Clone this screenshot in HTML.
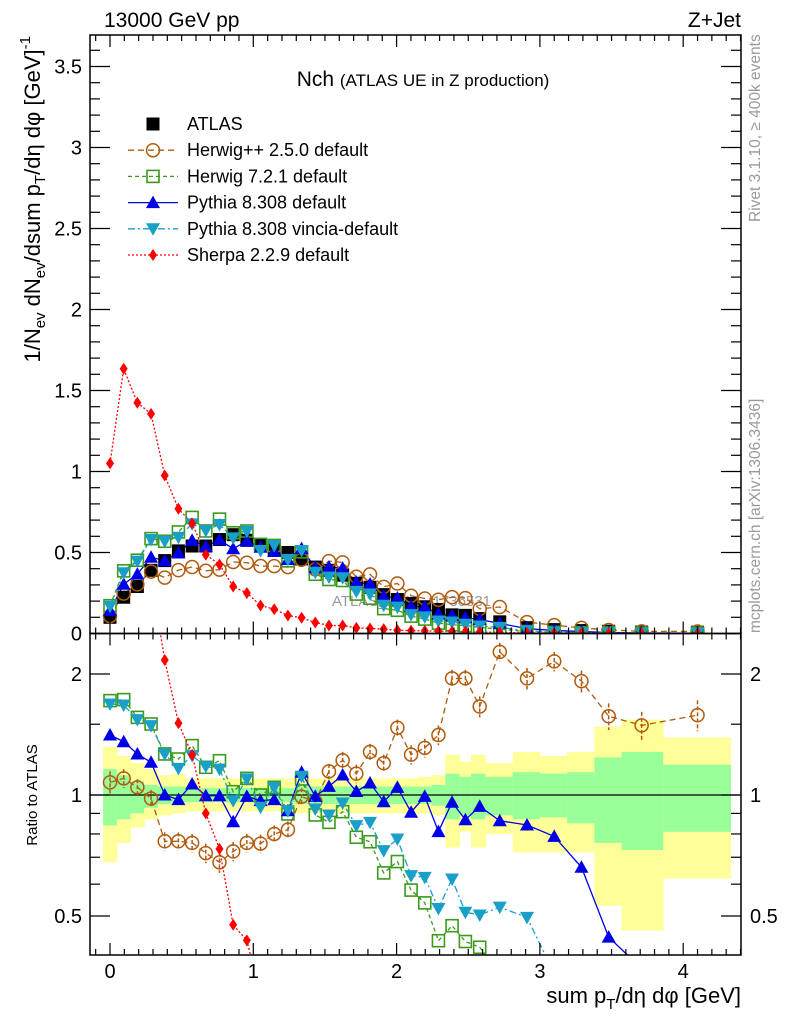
<!DOCTYPE html>
<html><head><meta charset="utf-8"><style>
html,body{margin:0;padding:0;background:#fff;width:786px;height:1024px;overflow:hidden;}
svg{display:block;font-family:"Liberation Sans",sans-serif;}
</style></head><body>
<svg id="chart" width="786" height="1024" viewBox="0 0 786 1024" xmlns="http://www.w3.org/2000/svg">
<defs>
<clipPath id="cm"><rect x="90" y="35" width="651" height="598.5"/></clipPath>
<clipPath id="cr"><rect x="90" y="633.5" width="651" height="321.5"/></clipPath>
</defs>
<g id="bands" clip-path="url(#cr)"></g>
<g id="refline"></g>
<g id="ratio" clip-path="url(#cr)"></g>
<text x="332" y="606" font-size="15" fill="#999">ATLAS_2019_I1736531</text>
<g id="main" clip-path="url(#cm)"></g>
<g id="axes"></g>
<text x="104" y="27" font-size="21">13000 GeV pp</text>
<text x="741" y="27" font-size="21" text-anchor="end">Z+Jet</text>
<text x="423" y="86" font-size="21" text-anchor="middle">Nch <tspan font-size="17">(ATLAS UE in Z production)</tspan></text>
<text transform="translate(760,222) rotate(-90)" font-size="15.5" fill="#999">Rivet 3.1.10, ≥ 400k events</text>
<text transform="translate(760,633) rotate(-90)" font-size="15.5" fill="#999">mcplots.cern.ch [arXiv:1306.3436]</text>
<text transform="translate(40,36) rotate(-90)" font-size="22" text-anchor="end">1/N<tspan font-size="15" dy="5">ev</tspan><tspan dy="-5"> dN</tspan><tspan font-size="15" dy="5">ev</tspan><tspan dy="-5">/dsum p</tspan><tspan font-size="15" dy="5">T</tspan><tspan dy="-5">/dη dφ  [GeV]</tspan><tspan font-size="15" dy="-10">-1</tspan></text>
<text transform="translate(37,795) rotate(-90)" font-size="15" text-anchor="middle">Ratio to ATLAS</text>
<text x="741" y="1003" font-size="22" text-anchor="end">sum p<tspan font-size="15" dy="6">T</tspan><tspan dy="-6">/dη dφ [GeV]</tspan></text>
<g id="legend"></g>
</svg>
<script>
const xVals=[0,0.0955,0.191,0.2865,0.382,0.4775,0.573,0.6685,0.764,0.8595,0.955,1.0505,1.146,1.2415,1.337,1.4325,1.528,1.6235,1.719,1.8145,1.91,2.0055,2.101,2.1965,2.292,2.387,2.48,2.58,2.72,2.91,3.1,3.29,3.48,3.71,4.1];
const binEdges=[-0.048,0.0475,0.143,0.2385,0.334,0.4295,0.525,0.6205,0.716,0.8115,0.907,1.0025,1.098,1.1935,1.289,1.3845,1.48,1.5755,1.671,1.7665,1.862,1.9575,2.053,2.1485,2.244,2.34,2.44,2.52,2.62,2.81,3.0,3.19,3.38,3.57,3.86,4.33];
const atlas=[0.10,0.224,0.29,0.39,0.45,0.51,0.54,0.54,0.58,0.61,0.575,0.55,0.52,0.50,0.46,0.41,0.39,0.36,0.31,0.285,0.24,0.21,0.185,0.165,0.148,0.115,0.112,0.092,0.072,0.036,0.024,0.018,0.014,0.009,0.008];
const herwigppRatio=[1.075,1.10,1.045,0.98,0.767,0.767,0.76,0.717,0.68,0.724,0.76,0.757,0.80,0.82,0.99,0.965,1.145,1.22,1.13,1.28,1.20,1.47,1.26,1.31,1.41,1.95,1.95,1.66,2.27,1.95,2.15,1.92,1.57,1.49,1.58];
const herwig7Ratio=[1.717,1.727,1.56,1.502,1.265,1.229,1.327,1.172,1.217,1.019,1.1,1.0,1.045,0.897,1.096,0.892,0.855,0.909,0.785,0.765,0.64,0.683,0.58,0.539,0.434,0.473,0.432,0.418,0.36,0.33,0.3,0.28,0.26,0.25,0.25];
const pythiaRatio=[1.41,1.357,1.265,1.206,1.0,0.974,1.065,0.996,0.996,0.858,0.992,0.968,0.974,0.914,1.139,0.992,1.051,1.121,1.02,1.071,0.962,1.045,0.906,0.992,0.811,0.959,0.868,0.937,0.863,0.842,0.789,0.661,0.443,0.37,0.3];
const vinciaRatio=[1.684,1.675,1.54,1.488,1.265,1.165,1.253,1.178,1.16,0.968,1.096,0.932,1.045,0.914,1.113,0.923,0.892,0.955,0.839,0.855,0.727,0.777,0.63,0.624,0.522,0.618,0.511,0.503,0.526,0.496,0.36,0.3,0.28,0.26,0.25];
const sherpaValues=[1.05,1.634,1.424,1.356,0.975,0.77,0.68,0.486,0.426,0.29,0.25,0.173,0.15,0.111,0.097,0.068,0.049,0.049,0.035,0.031,0.027,0.02,0.018,0.016,0.015,0.012,0.011,0.009,0.007,0.004,0.003,0.002,0.0015,0.001,0.001];
const herwigppErr=[0.07,0.06,0.05,0.05,0.04,0.04,0.04,0.04,0.04,0.04,0.04,0.04,0.04,0.04,0.05,0.05,0.05,0.06,0.06,0.06,0.06,0.07,0.07,0.07,0.08,0.1,0.1,0.1,0.12,0.12,0.12,0.12,0.12,0.12,0.14];
const yellowUp=[1.32,1.25,1.2,1.16,1.12,1.13,1.1,1.1,1.1,1.1,1.1,1.1,1.1,1.1,1.1,1.1,1.1,1.1,1.1,1.1,1.1,1.1,1.1,1.11,1.12,1.26,1.21,1.26,1.2,1.28,1.25,1.28,1.48,1.54,1.39];
const yellowDn=[0.68,0.76,0.83,0.87,0.89,0.9,0.91,0.91,0.91,0.91,0.91,0.91,0.91,0.91,0.9,0.9,0.9,0.9,0.9,0.9,0.9,0.9,0.9,0.9,0.89,0.74,0.81,0.74,0.8,0.72,0.72,0.72,0.53,0.46,0.62];
const greenUp=[1.16,1.12,1.08,1.06,1.05,1.05,1.04,1.04,1.04,1.04,1.04,1.04,1.04,1.04,1.05,1.05,1.05,1.05,1.05,1.05,1.05,1.05,1.05,1.05,1.06,1.13,1.11,1.13,1.11,1.14,1.13,1.14,1.24,1.28,1.19];
const greenDn=[0.84,0.87,0.9,0.93,0.95,0.96,0.96,0.96,0.96,0.96,0.96,0.96,0.96,0.96,0.95,0.95,0.95,0.95,0.95,0.95,0.95,0.95,0.95,0.95,0.94,0.87,0.89,0.87,0.89,0.87,0.88,0.85,0.76,0.73,0.81];
const mainTicks=[0,0.5,1,1.5,2,2.5,3,3.5];
const mainTickLabels=["0","0.5","1","1.5","2","2.5","3","3.5"];
const xTicks=[0,1,2,3,4];
const xTickLabels=["0","1","2","3","4"];
const ratioTicks=[0.5,1,2];
const ratioTickLabels=["0.5","1","2"];

const NS="http://www.w3.org/2000/svg";
const X=v=>110+143.3*v;
const Y=v=>633.5-162*v;
const R=r=>795-121*Math.log2(r);
function mk(tag,attrs,parent){const e=document.createElementNS(NS,tag);for(const k in attrs)e.setAttribute(k,attrs[k]);parent.appendChild(e);return e;}
const gB=document.getElementById('bands'),gR=document.getElementById('ratio'),gM=document.getElementById('main'),gA=document.getElementById('axes'),gL=document.getElementById('legend'),gRef=document.getElementById('refline');

for(let i=0;i<xVals.length;i++){
  const x0=X(binEdges[i]),x1=X(binEdges[i+1]);
  let e=mk('rect',{x:x0,y:R(yellowUp[i]),width:x1-x0+0.5,height:R(yellowDn[i])-R(yellowUp[i]),fill:'#ffff99'},gB);
  
  
  e=mk('rect',{x:x0,y:R(greenUp[i]),width:x1-x0+0.5,height:R(greenDn[i])-R(greenUp[i]),fill:'#99ff99'},gB);
  
  
}
let ln=mk('line',{x1:90,x2:741,y1:R(1),y2:R(1),stroke:'#000','stroke-width':1.3},gRef);



function marker(type,x,y,color,parent){
  let e;
  if(type==='square')e=mk('rect',{x:x-6.5,y:y-6.5,width:13,height:13,fill:color},parent);
  else if(type==='circle')e=mk('circle',{cx:x,cy:y,r:6.5,fill:'none',stroke:color,'stroke-width':1.5},parent);
  else if(type==='osquare')e=mk('rect',{x:x-6,y:y-6,width:12,height:12,fill:'none',stroke:color,'stroke-width':1.6},parent);
  else if(type==='tri')e=mk('polygon',{points:`${x},${y-7} ${x-7},${y+5.5} ${x+7},${y+5.5}`,fill:color},parent);
  else if(type==='itri')e=mk('polygon',{points:`${x},${y+7} ${x-7},${y-5.5} ${x+7},${y-5.5}`,fill:color},parent);
  else if(type==='diamond')e=mk('polygon',{points:`${x},${y-6} ${x-4},${y} ${x},${y+6} ${x+4},${y}`,fill:color},parent);
  return e;
}
const series=[
 {name:'herwigpp',color:'#b05a0c',dash:'6,4',type:'circle',vals:herwigppRatio.map((r,i)=>r*atlas[i]),ratio:herwigppRatio,err:herwigppErr},
 {name:'herwig7',color:'#3c9a1c',dash:'4,3',type:'osquare',vals:herwig7Ratio.map((r,i)=>r*atlas[i]),ratio:herwig7Ratio},
 {name:'pythia',color:'#0000e6',dash:'',type:'tri',vals:pythiaRatio.map((r,i)=>r*atlas[i]),ratio:pythiaRatio},
 {name:'vincia',color:'#1aa0c8',dash:'7,3,2,3',type:'itri',vals:vinciaRatio.map((r,i)=>r*atlas[i]),ratio:vinciaRatio},
 {name:'sherpa',color:'#ff0000',dash:'2,2',type:'diamond',vals:sherpaValues,ratio:sherpaValues.map((v,i)=>v/atlas[i])}
];
series.forEach(s=>{
  const pl=mk('polyline',{points:s.vals.map((v,i)=>X(xVals[i])+','+Y(v)).join(' '),fill:'none',stroke:s.color,'stroke-width':1.3,'stroke-dasharray':s.dash},gM);
  
  
});
atlas.forEach((v,i)=>{const e=marker('square',X(xVals[i]),Y(v),'#000',gM);
  
  });
series.forEach(s=>{s.vals.forEach((v,i)=>{const e=marker(s.type,X(xVals[i]),Y(v),s.color,gM);
  
  });});
series.forEach(s=>{
  const pl=mk('polyline',{points:s.ratio.map((r,i)=>X(xVals[i])+','+R(r)).join(' '),fill:'none',stroke:s.color,'stroke-width':1.3,'stroke-dasharray':s.dash},gR);
  
  
  s.ratio.forEach((r,i)=>{
    if(s.err){const eb=mk('line',{x1:X(xVals[i]),x2:X(xVals[i]),y1:R(r+s.err[i]),y2:R(r-s.err[i]),stroke:s.color,'stroke-width':1.5,'stroke-dasharray':'4,2'},gR);
      
      }
    const e=marker(s.type,X(xVals[i]),R(r),s.color,gR);
    
    
  });
});
[[35,633.5],[633.5,955]].forEach(([t,b])=>{const f=mk('rect',{x:90,y:t,width:651,height:b-t,fill:'none',stroke:'#000','stroke-width':1.5},gA);
  
  });
function tick(x1,y1,x2,y2){mk('line',{x1,y1,x2,y2,stroke:'#000','stroke-width':1.2},gA);}
for(let k=-1;k<=44;k++){const v=k/10;const x=X(v);if(x<90||x>741)continue;const big=k%10===0;const L=big?12:6;
  tick(x,35,x,35+L);tick(x,633.5,x,633.5-L);tick(x,633.5,x,633.5+L);tick(x,955,x,955-L);}
for(let k=0;k<=36;k++){const v=k/10;const y=Y(v);if(y<35)continue;const big=k%5===0;const L=big?20:10;tick(90,y,90+L,y);tick(741,y,741-L,y);}
[0.5,0.6,0.7,0.8,0.9,1,1.5,2].forEach(r=>{const y=R(r);const big=(r===0.5||r===1||r===2);const L=big?20:10;tick(90,y,90+L,y);tick(741,y,741-L,y);});
mainTicks.forEach((v,i)=>{const t=mk('text',{x:82,y:Y(v)+7,'font-size':20,'text-anchor':'end'},gA);t.textContent=mainTickLabels[i];
  
  });
xTicks.forEach((v,i)=>{const t=mk('text',{x:X(v),y:978,'font-size':20,'text-anchor':'middle'},gA);t.textContent=xTickLabels[i];
  
  });
ratioTicks.forEach((v,i)=>{let t=mk('text',{x:82,y:R(v)+7,'font-size':20,'text-anchor':'end'},gA);t.textContent=ratioTickLabels[i];
  
  
  t=mk('text',{x:750,y:R(v)+7,'font-size':20},gA);t.textContent=ratioTickLabels[i];
  
  });
const legendLabels=["ATLAS","Herwig++ 2.5.0 default","Herwig 7.2.1 default","Pythia 8.308 default","Pythia 8.308 vincia-default","Sherpa 2.2.9 default"];
legendLabels.forEach((lab,i)=>{
  const y=124+i*26.2;
  const g=mk('g',{},gL);
  
  
  if(i===0){marker('square',153,y,'#000',g);}
  else{const s=series[i-1];mk('line',{x1:128,x2:178,y1:y,y2:y,stroke:s.color,'stroke-width':1.3,'stroke-dasharray':s.dash},g);marker(s.type,153,y,s.color,g);}
  const t=mk('text',{x:187,y:y+6,'font-size':18},g);t.textContent=lab;
});
</script>
</body></html>
